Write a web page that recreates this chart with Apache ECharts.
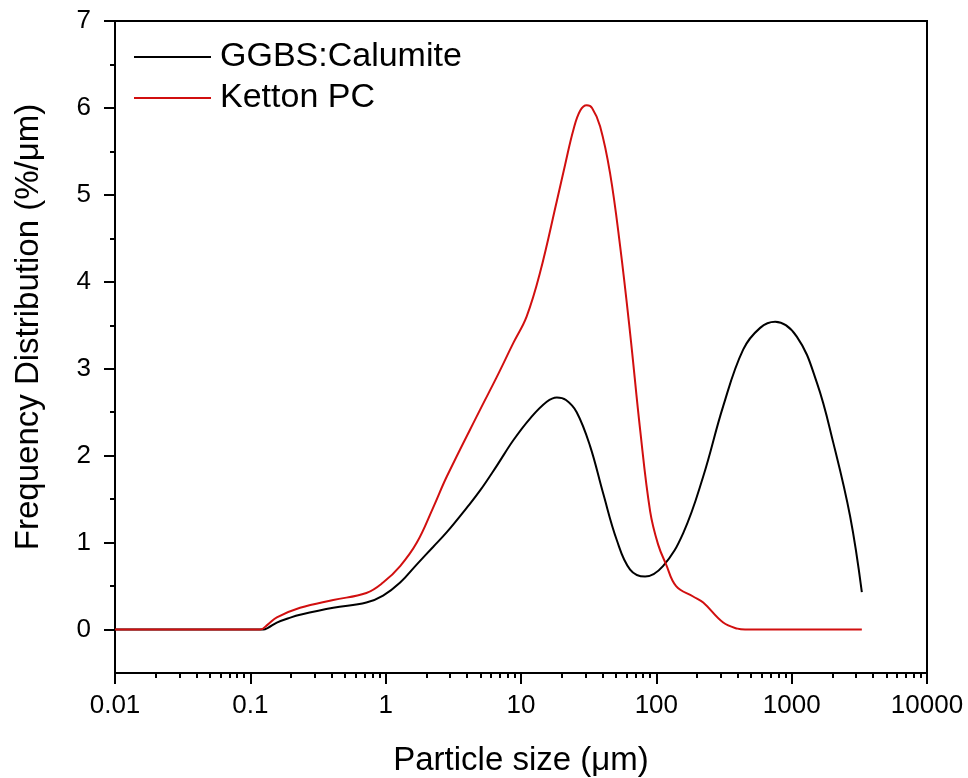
<!DOCTYPE html>
<html>
<head>
<meta charset="utf-8">
<script src="https://cdn.jsdelivr.net/npm/echarts@6/dist/echarts.min.js"></script>
<style>
html,body{margin:0;padding:0;background:#fff;}
#chart{width:968px;height:778px;}
</style>
</head>
<body>
<div id="chart"></div>
<script>
var seriesNames = ['GGBS:Calumite', 'Ketton PC'];

var ggbsCalumite = [
  [0.01,0],[0.125,0],[0.135,0.02],[0.157,0.08],[0.2,0.14],[0.233,0.17],[0.41,0.25],
  [0.72,0.31],[0.957,0.39],[1.28,0.54],[1.7,0.75],[2.24,0.95],[2.83,1.12],[3.97,1.40],
  [4.99,1.60],[6.6,1.88],[8.8,2.18],[11.7,2.43],[15.5,2.62],[18.4,2.67],[21.5,2.64],[25.8,2.5],
  [32.4,2.11],[40.4,1.57],[51,1.03],[64,0.69],[82.6,0.61],[112,0.73],[158,1.11],
  [222,1.76],[312,2.57],[438,3.22],[585,3.47],[755,3.54],[1091,3.37],[1535,2.84],
  [2029,2.15],[2705,1.30],[3300,0.43]
];

var kettonPC = [
  [0.01,0],[0.118,0],[0.135,0.06],[0.157,0.14],[0.233,0.25],[0.41,0.34],[0.72,0.42],
  [0.957,0.54],[1.28,0.73],[1.7,1.0],[2.24,1.4],[2.83,1.76],[4.99,2.53],[6.6,2.9],
  [8.8,3.3],[11.0,3.6],[13.8,4.1],[18.4,4.93],[21.2,5.35],[24.4,5.75],[27.4,5.97],
  [30.6,6.03],[33.5,6.0],[38.4,5.79],[45.5,5.25],[54,4.41],[64,3.41],[75.9,2.3],
  [90,1.36],[103,0.98],[118,0.75],[140,0.5],[187,0.38],[222,0.31],[312,0.08],
  [398,0.01],[453,0],[3300,0]
];

var xMajorTicks = [0.01, 0.1, 1, 10, 100, 1000, 10000];
var yMajorTicks = [0, 1, 2, 3, 4, 5, 6, 7];
var yMinorTicks = [0.5, 1.5, 2.5, 3.5, 4.5, 5.5, 6.5];
var xMinorMultipliers = [2, 3, 4, 5, 6, 7, 8, 9];
var xMinorTicks = [];
for (var d = 0; d < xMajorTicks.length - 1; d++) {
  for (var m = 0; m < xMinorMultipliers.length; m++) {
    xMinorTicks.push(+(xMajorTicks[d] * xMinorMultipliers[m]).toPrecision(6));
  }
}

var FONT = 'Liberation Sans, Arial, sans-serif';
var RED = '#d10f0f';
var chart = echarts.init(document.getElementById('chart'));

var option = {
  backgroundColor: '#fff',
  animation: false,
  grid: {
    left: 115, right: 41, top: 21, bottom: 105,
    outerBoundsMode: 'none', containLabel: false,
    show: true, borderColor: '#000', borderWidth: 2, backgroundColor: 'transparent'
  },
  legend: {
    orient: 'vertical',
    left: 129, top: 35,
    icon: 'rect',
    itemWidth: 77, itemHeight: 2, itemGap: 7,
    textStyle: { fontFamily: FONT, fontSize: 34, color: '#000', padding: [0,0,0,4] },
    data: [
      { name: seriesNames[0], itemStyle: { color: '#000' } },
      { name: seriesNames[1], itemStyle: { color: RED } }
    ]
  },
  xAxis: [{
    type: 'log', logBase: 10, min: 0.01, max: 10000,
    name: 'Particle size (\u03bcm)', nameLocation: 'middle', nameGap: 71,
    nameTextStyle: { fontFamily: FONT, fontSize: 33, color: '#000' },
    axisLine: { show: true, onZero: false, lineStyle: { color: '#000', width: 2 } },
    axisTick: { show: true, inside: false, length: 11, customValues: xMajorTicks, lineStyle: { color: '#000', width: 2 } },
    axisLabel: { show: true, margin: 20, customValues: xMajorTicks, fontFamily: FONT, fontSize: 26, color: '#000',
      formatter: function (v) { return String(+(+v).toPrecision(6)); } },
    splitLine: { show: false }
  }, {
    type: 'log', logBase: 10, min: 0.01, max: 10000, position: 'bottom', gridIndex: 0,
    axisLine: { show: false, onZero: false },
    axisTick: { show: true, inside: false, length: 5, customValues: xMinorTicks, lineStyle: { color: '#000', width: 2 } },
    axisLabel: { show: false },
    splitLine: { show: false }
  }],
  yAxis: [{
    type: 'value', min: -0.5, max: 7,
    name: 'Frequency Distribution (%/\u03bcm)', nameLocation: 'middle', nameGap: 70,
    nameTextStyle: { fontFamily: FONT, fontSize: 33, color: '#000', padding: [0, 0, 0, 40] },
    axisLine: { show: true, onZero: false, lineStyle: { color: '#000', width: 2 } },
    axisTick: { show: true, inside: false, length: 11, customValues: yMajorTicks, lineStyle: { color: '#000', width: 2 } },
    axisLabel: { show: true, margin: 24, customValues: yMajorTicks, fontFamily: FONT, fontSize: 26, color: '#000' },
    splitLine: { show: false }
  }, {
    type: 'value', min: -0.5, max: 7, position: 'left', gridIndex: 0,
    axisLine: { show: false, onZero: false },
    axisTick: { show: true, inside: false, length: 5, customValues: yMinorTicks, lineStyle: { color: '#000', width: 2 } },
    axisLabel: { show: false },
    splitLine: { show: false }
  }],
  series: [{
    name: seriesNames[0], type: 'line', xAxisIndex: 0, yAxisIndex: 0,
    data: ggbsCalumite, smooth: 0.4, symbol: 'none',
    lineStyle: { color: '#000', width: 2 }, itemStyle: { color: '#000' }, z: 2
  }, {
    name: seriesNames[1], type: 'line', xAxisIndex: 0, yAxisIndex: 0,
    data: kettonPC, smooth: 0.4, symbol: 'none',
    lineStyle: { color: RED, width: 2 }, itemStyle: { color: RED }, z: 3
  }]
};
chart.setOption(option);
</script>
</body>
</html>
